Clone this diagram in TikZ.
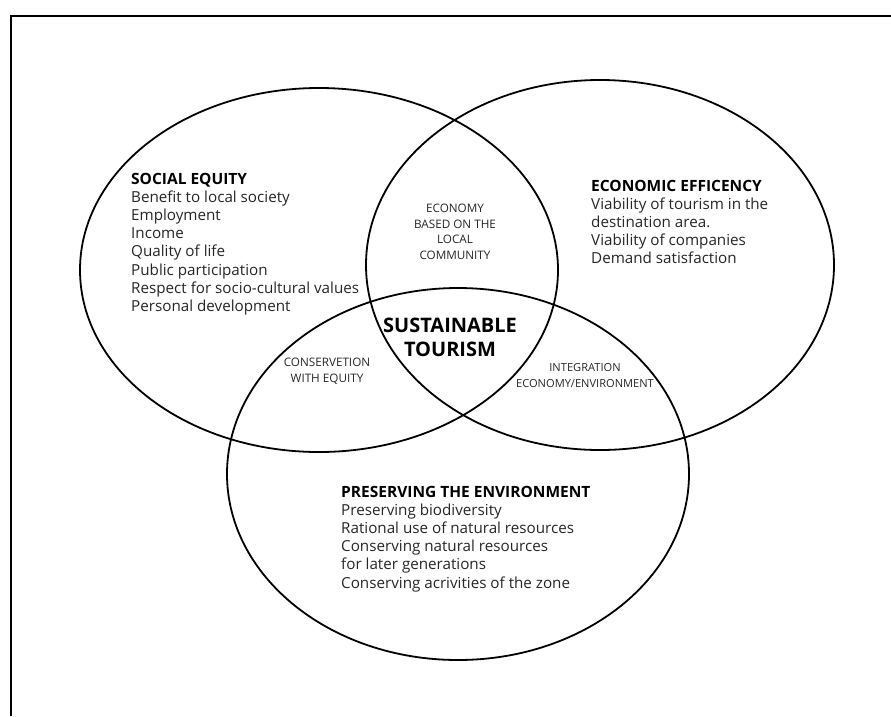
\documentclass[tikz,border=0pt]{standalone}
\usepackage{fontspec}
\setmainfont{Open Sans}
\begin{document}
\begin{tikzpicture}[x=1pt,y=-1pt,
  ring/.style={draw=black, line width=1.8pt},
  frameline/.style={draw=black, line width=2pt},
  head/.style={anchor=base west, inner sep=0pt, font=\fontsize{15.5}{18}\selectfont\bfseries},
  body/.style={anchor=base west, inner sep=0pt, text=black!85, font=\fontsize{15.2}{18}\selectfont},
  small/.style={anchor=base, inner sep=0pt, text=black!85, font=\fontsize{11.7}{14}\selectfont},
  smaller/.style={small, font=\fontsize{11.1}{13}\selectfont},
  big/.style={anchor=base, inner sep=0pt, font=\fontsize{20}{22}\selectfont\bfseries}]
\useasboundingbox (0,0) rectangle (891,716);
% frame
\coordinate (fa) at (11,716);
\coordinate (fb) at (11,16);
\coordinate (fc) at (891,16);
\draw[frameline] (fa) -- (fb) -- (fc);
% circles
\coordinate (cs) at (319,270);
\coordinate (ce) at (600,265);
\coordinate (cp) at (458,474);
\draw[ring] (cs) ellipse [x radius=239, y radius=182];
\draw[ring] (ce) ellipse [x radius=234, y radius=185];
\draw[ring] (cp) ellipse [x radius=231, y radius=186];
% social equity
\node[head] (sh) at (131,184) {SOCIAL EQUITY};
\foreach \t [count=\i] in {Benefit to local society, Employment, Income, Quality of life, Public participation, Respect for socio-cultural values, Personal development}
  \node[body] (s\i) at (131,184+\i*18.2) {\t};
% economic efficiency
\node[head] (eh) at (591,191) {ECONOMIC EFFICENCY};
\foreach \t [count=\i] in {Viability of tourism in the, destination area., Viability of companies, Demand satisfaction}
  \node[body] (e\i) at (591,191+\i*18.2) {\t};
% environment
\node[head] (ph) at (341,497) {PRESERVING THE ENVIRONMENT};
\foreach \t [count=\i] in {Preserving biodiversity, Rational use of natural resources, Conserving natural resources, for later generations, Conserving acrivities of the zone}
  \node[body] (p\i) at (341,497+\i*18.2) {\t};
% intersections
\foreach \t [count=\i] in {ECONOMY, BASED ON THE, LOCAL, COMMUNITY}
  \node[small] (c\i) at (455,197+\i*15.5) {\t};
\node[small] (w1) at (327,366) {CONSERVETION};
\node[small] (w2) at (327,382) {WITH EQUITY};
\node[smaller] (i1) at (585,371) {INTEGRATION};
\node[smaller] (i2) at (585,387) {ECONOMY/ENVIRONMENT};
\node[big] (t1) at (450,332) {SUSTAINABLE};
\node[big] (t2) at (450,356) {TOURISM};
\end{tikzpicture}
\end{document}
